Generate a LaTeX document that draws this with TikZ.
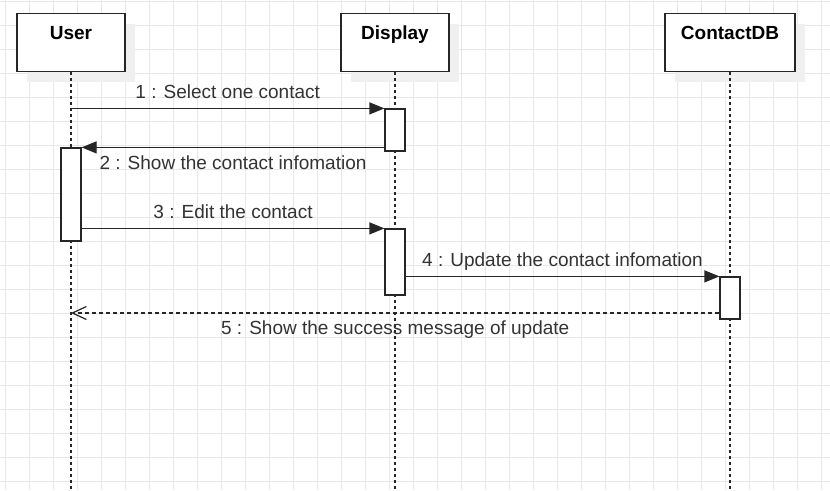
\documentclass[tikz,border=0pt]{standalone}
\usepackage{fontspec}
\setmainfont{Liberation Sans}
\usetikzlibrary{arrows.meta,shadows}

\begin{document}
\begin{tikzpicture}[x=1pt, y=-1pt]

\tikzstyle{gridline}=[draw=black!9, line width=1pt]
\tikzstyle{head}=[rectangle, draw=black!85, line width=1.2pt, fill=white, minimum width=108pt, inner ysep=0pt, text height=26pt, text depth=32pt, font=\fontsize{19}{22}\selectfont\bfseries, general shadow={fill=black!6, shadow xshift=10pt, shadow yshift=-10pt}]
\tikzstyle{bar}=[rectangle, draw=black!85, line width=1.2pt, fill=white, minimum width=20pt, inner sep=0pt]
\tikzstyle{life}=[draw=black!85, line width=1.2pt, dash pattern=on 3pt off 3pt]
\tikzstyle{call}=[-{Triangle[length=15pt,width=12pt]}, draw=black!85, line width=1.2pt]
\tikzstyle{back}=[-{Straight Barb[length=14pt,width=13pt]}, draw=black!85, line width=1.2pt, dash pattern=on 4pt off 3pt]
\tikzstyle{msg}=[text=black!80, font=\fontsize{19}{22}\selectfont, inner sep=0pt, text height=14pt, text depth=0pt]

\useasboundingbox (0,0) rectangle (830,490);
\fill[white] (0,0) rectangle (830,490);

\foreach \x in {5,29,...,821} \draw[gridline] (\x,0) -- (\x,490);
\foreach \y in {1,25,...,481} \draw[gridline] (0,\y) -- (830,\y);

\node (U) [head, anchor=north] at (71,13) {User};
\node (D) [head, anchor=north] at (395,13) {Display};
\node (C) [head, anchor=north, minimum width=130pt] at (730,13) {ContactDB};

\coordinate (bottom) at (0,490);
\draw [life] (U) -- (U |- bottom);
\draw [life] (D) -- (D |- bottom);
\draw [life] (C) -- (C |- bottom);

\node (a1) [bar, minimum height=42pt] at (395,130) {};
\node (b1) [bar, minimum height=93pt] at (71,194.5) {};
\node (a2) [bar, minimum height=66pt] at (395,262) {};
\node (c1) [bar, minimum height=42pt] at (730,298) {};

\draw [call] (U |- a1.north) -- node[msg, above=9pt] {1 : Select one contact} (a1.north west);
\draw [call] (a1.west |- b1.north) -- node[msg, below=7pt] {2 : Show the contact infomation} (b1.north east);
\draw [call] (b1.east |- a2.north) -- node[msg, above=9pt] {3 : Edit the contact} (a2.north west);
\draw [call] (a2.east |- c1.north) -- node[msg, above=9pt] {4 : Update the contact infomation} (c1.north west);
\coordinate (ret) at (71,313);
\draw [back] (c1.west |- ret) -- node[msg, below=7pt] {5 : Show the success message of update} (ret);

\end{tikzpicture}
\end{document}
